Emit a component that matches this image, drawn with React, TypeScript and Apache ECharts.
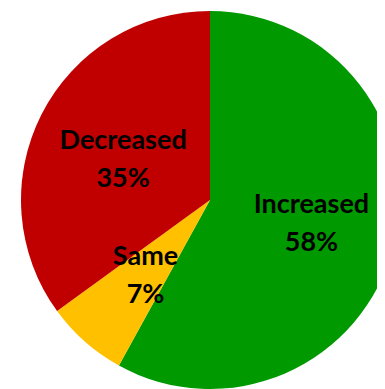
import React, { useEffect, useRef } from "react";
import * as echarts from "echarts";

const categories = ["Increased", "Same", "Decreased"];
const values = [58, 7, 35];
const colors = ["#009900", "#FFC000", "#C00000"];
const labelOffsets = [[7, -3], [0, 0], [0, 2]];

export default function App() {
  const ref = useRef<HTMLDivElement>(null);
  useEffect(() => {
    const chart = echarts.init(ref.current!, undefined, { renderer: "svg" });
    chart.setOption({
      animation: false,
      series: [
        {
          type: "pie",
          center: [202, 192],
          radius: 189,
          startAngle: 90,
          clockwise: true,
          silent: true,
          label: {
            show: true,
            position: "inside",
            formatter: (p: any) => `${p.name}\n${p.value}%`,
            color: "#000",
            fontFamily: "Lato",
            fontWeight: "bold",
            fontSize: 27,
            lineHeight: 38,
          },
          labelLine: { show: false },
          itemStyle: { borderWidth: 0 },
          data: categories.map((c, i) => ({
            name: c,
            value: values[i],
            itemStyle: { color: colors[i] },
            label: { offset: labelOffsets[i] },
          })),
        },
      ],
    });
    return () => chart.dispose();
  }, []);
  return <div ref={ref} style={{ width: 377, height: 381 }} />;
}
